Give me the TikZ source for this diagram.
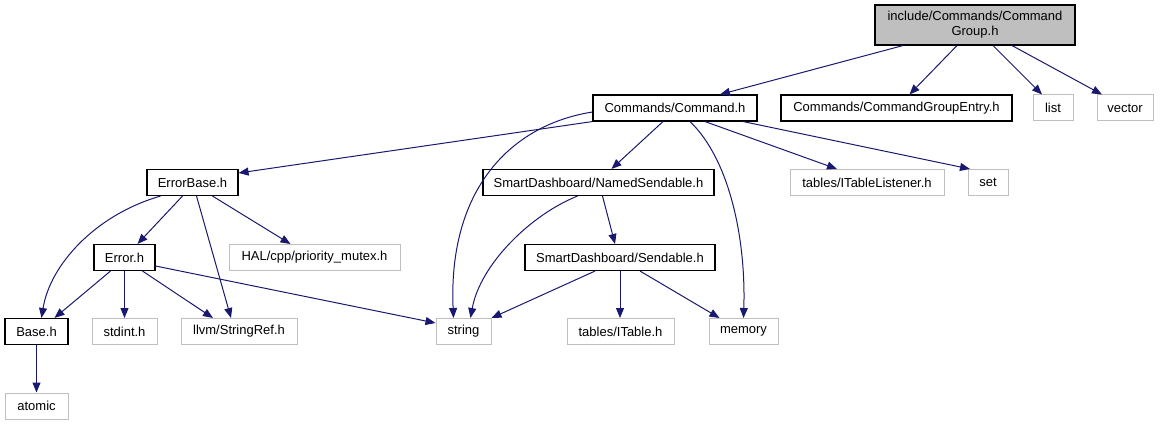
\documentclass[tikz,border=0pt]{standalone}
\usepackage{fontspec}
\setmainfont{Liberation Sans}
\usepackage{tikz}
\usetikzlibrary{arrows.meta,positioning}
\definecolor{edgeblue}{RGB}{25,25,112}
\definecolor{extgray}{RGB}{191,191,191}
\tikzset{
  hdr/.style ={draw=black, line width=1.1pt, fill=white, align=center, font=\fontsize{13}{15}\selectfont,
               inner sep=0pt, minimum height=26pt},
  root/.style={hdr, fill=extgray, minimum height=40pt},
  ext/.style ={hdr, draw=extgray, line width=1pt},
  inc/.style ={-{Triangle[length=10pt, width=8pt]}, draw=edgeblue, line width=1pt}
}

\begin{document}
\begin{tikzpicture}[x=1pt, y=-1pt]
  \useasboundingbox (0,0) rectangle (1162,425);
  % top
  \node[root, minimum width=200pt] (grp) at (975,25) {include/Commands/Command\\Group.h};
  % direct includes
  \node[hdr, minimum width=164pt] (cmd) at (675,108) {Commands/Command.h};
  \node[hdr, minimum width=231pt] (cge) at (896.5,108) {Commands/CommandGroupEntry.h};
  \node[ext, minimum width=40pt]  (lst) at (1053,108) {list};
  \node[ext, minimum width=56pt]  (vec) at (1125,108) {vector};
  % Command.h includes
  \node[hdr, minimum width=91pt]  (eb)  at (192.5,182.5) {ErrorBase.h};
  \node[hdr, minimum width=231pt] (ns)  at (598.5,182.5) {SmartDashboard/NamedSendable.h};
  \node[ext, minimum width=154pt] (itl) at (867,182.5) {tables/ITableListener.h};
  \node[ext, minimum width=40pt]  (st)  at (988,182.5) {set};
  \node[hdr, minimum width=61pt]  (err) at (124.5,257.5) {Error.h};
  \node[ext, minimum width=171pt] (hal) at (314.5,257.5) {HAL/cpp/priority\_mutex.h};
  \node[hdr, minimum width=190pt] (snd) at (620,257.5) {SmartDashboard/Sendable.h};
  % leaves
  \node[hdr, minimum width=63pt]  (base) at (36.5,331.5) {Base.h};
  \node[ext, minimum width=65pt]  (sdi)  at (124.5,331.5) {stdint.h};
  \node[ext, minimum width=116pt] (sref) at (239,331.5) {llvm/StringRef.h};
  \node[ext, minimum width=55pt]  (str)  at (463.5,331.5) {string};
  \node[ext, minimum width=107pt] (itab) at (620.5,331.5) {tables/ITable.h};
  \node[ext, minimum width=69pt]  (mem)  at (743.5,331.5) {memory};
  \node[ext, minimum width=63pt]  (atm)  at (36.5,406) {atomic};

  \draw[inc] ([xshift=-72pt]grp.south) -- ([xshift=45pt]cmd.north);
  \draw[inc] ([xshift=-18pt]grp.south) -- ([xshift=13pt]cge.north);
  \draw[inc] ([xshift=18pt]grp.south) -- ([xshift=-11pt]lst.north);
  \draw[inc] ([xshift=37pt]grp.south) -- ([xshift=-23pt]vec.north);

  \draw[inc] (cmd.south west) -- ([yshift=9.5pt]eb.east);
  \draw[inc] ([yshift=-4pt]cmd.west) .. controls (510,125) and (448,190) .. ([xshift=-10pt]str.north);
  \draw[inc] ([xshift=-12pt]cmd.south) -- ([xshift=13pt]ns.north);
  \draw[inc] ([xshift=15pt]cmd.south) .. controls (730,160) and (746,240) .. (mem.north);
  \draw[inc] ([xshift=30pt]cmd.south) -- ([xshift=-30pt]itl.north);
  \draw[inc] ([xshift=68pt]cmd.south) -- ([xshift=-18pt]st.north);

  \draw[inc] ([xshift=-32pt]eb.south) .. controls (95,215) and (50,265) .. ([xshift=5pt]base.north);
  \draw[inc] ([xshift=-10pt]eb.south) -- ([xshift=13pt]err.north);
  \draw[inc] ([xshift=4pt]eb.south) -- ([xshift=-8pt]sref.north);
  \draw[inc] ([xshift=20pt]eb.south) -- ([xshift=-24pt]hal.north);

  \draw[inc] ([xshift=-14pt]err.south) -- ([xshift=18pt]base.north);
  \draw[inc] (err.south) -- (sdi.north);
  \draw[inc] ([xshift=18pt]err.south) -- ([xshift=-26pt]sref.north);
  \draw[inc] ([yshift=-8.5pt]err.east) -- ([yshift=8.5pt]str.west);

  \draw[inc] ([xshift=-21pt]ns.south) .. controls (530,215) and (480,265) .. ([xshift=7pt]str.north);
  \draw[inc] ([xshift=4pt]ns.south) -- ([xshift=-5pt]snd.north);

  \draw[inc] ([xshift=-25pt]snd.south) -- (str.north east);
  \draw[inc] (snd.south) -- (snd.south |- itab.north);
  \draw[inc] ([xshift=20pt]snd.south) -- ([xshift=-24pt]mem.north);

  \draw[inc] (base) -- (atm);
\end{tikzpicture}
\end{document}
